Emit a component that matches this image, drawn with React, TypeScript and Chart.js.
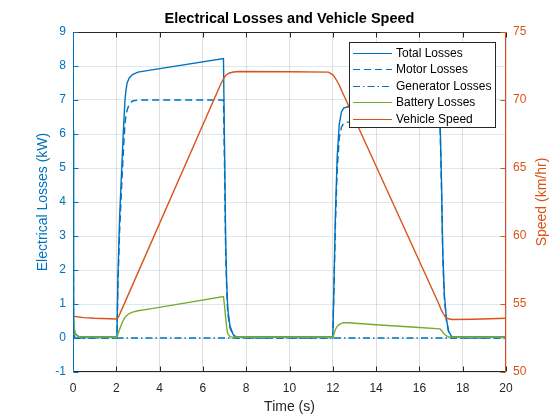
import React, { useEffect, useRef } from 'react';
import { Chart, registerables } from 'chart.js';
Chart.register(...registerables);

// time base shared by the loss traces (s)
const lossTime = [
  0, 0.03, 0.1, 0.3, 2.03, 2.07, 2.15, 2.25, 2.32, 2.4, 2.45, 2.5, 2.6, 2.75, 3.0, 3.5, 6.95,
  7.0, 7.05, 7.1, 7.15, 7.25, 7.4, 7.55, 12.0, 12.05, 12.12, 12.2, 12.3, 12.4, 12.5, 12.7,
  14.0, 16.0, 16.95, 17.02, 17.08, 17.15, 17.25, 17.35, 17.5, 20,
];
const totalLosses = [
  6.1, 0.4, 0.12, 0.03, 0.03, 1.7, 3.5, 5.0, 6.0, 7.0, 7.3, 7.5, 7.65, 7.75, 7.82, 7.87, 8.22,
  5.6, 2.9, 1.6, 0.85, 0.35, 0.1, 0.03, 0.03, 1.5, 3.6, 5.3, 6.3, 6.65, 6.76, 6.8,
  6.72, 6.62, 6.58, 4.6, 2.5, 1.3, 0.55, 0.2, 0.03, 0.03,
];
const motorLosses = [
  5.4, 0.1, 0.02, 0, 0, 1.4, 3.1, 4.5, 5.4, 6.3, 6.55, 6.7, 6.88, 6.97, 7.0, 7.0, 7.0,
  5.0, 2.6, 1.4, 0.72, 0.3, 0.08, 0, 0, 1.4, 3.3, 4.9, 5.9, 6.2, 6.32, 6.35,
  6.35, 6.35, 6.35, 4.4, 2.4, 1.2, 0.5, 0.18, 0, 0,
];
const generatorLosses = [
  0, 0, 0, 0, 0, 0, 0, 0, 0, 0, 0, 0, 0, 0, 0, 0, 0,
  0, 0, 0, 0, 0, 0, 0, 0, 0, 0, 0, 0, 0, 0, 0,
  0, 0, 0, 0, 0, 0, 0, 0, 0, 0,
];
const batteryLosses = [
  0.65, 0.35, 0.1, 0.03, 0.02, 0.1, 0.25, 0.42, 0.52, 0.6, 0.64, 0.67, 0.72, 0.76, 0.8, 0.85, 1.22,
  0.95, 0.6, 0.3, 0.12, 0.04, 0.02, 0.02, 0.02, 0.12, 0.25, 0.34, 0.4, 0.43, 0.45, 0.45,
  0.39, 0.31, 0.27, 0.22, 0.17, 0.12, 0.06, 0.03, 0.02, 0.02,
];

const speedTime = [
  0, 0.5, 1, 2.03, 2.1, 2.2, 6.75, 6.85, 6.95, 7.05, 7.2, 7.4, 7.7, 10, 11.8, 12.0, 12.1, 12.25,
  16.9, 17.0, 17.1, 17.2, 17.3, 17.5, 18.5, 20,
];
const vehicleSpeed = [
  54.1, 54.0, 53.95, 53.9, 54.05, 54.4, 70.9, 71.25, 71.55, 71.8, 71.97, 72.06, 72.1, 72.08, 72.05,
  71.85, 71.65, 71.25, 55.0, 54.6, 54.3, 54.05, 53.93, 53.86, 53.88, 53.95,
];

const BLUE = '#0072BD';
const ORANGE = '#D95319';
const GREEN = '#77AC30';
const DARK = '#262626';
const FONT = '"Liberation Sans", Arial, Helvetica, sans-serif';

const pts = (xs: number[], ys: number[]) => xs.map((x, i) => ({ x, y: ys[i] }));

// MATLAB-ish axes box: inward ticks, coloured y axes, title and legend inside the plot
const matlabFrame = {
  id: 'matlabFrame',
  afterDatasetsDraw(chart: any) {
    const { ctx, chartArea: a, scales } = chart;
    const L = Math.round(a.left) + 0.5;
    const R = Math.round(a.right) - 0.5;
    const T = Math.round(a.top) + 0.5;
    const B = Math.round(a.bottom) - 0.5;
    const tl = 5;
    ctx.save();
    ctx.lineWidth = 1;

    ctx.strokeStyle = DARK;
    ctx.beginPath();
    scales.x.ticks.forEach((t: any) => {
      const px = Math.round(scales.x.getPixelForValue(t.value)) + 0.5;
      ctx.moveTo(px, B); ctx.lineTo(px, B - tl);
      ctx.moveTo(px, T); ctx.lineTo(px, T + tl);
    });
    ctx.moveTo(L, B); ctx.lineTo(R, B);
    ctx.moveTo(L, T); ctx.lineTo(R, T);
    ctx.stroke();

    ctx.strokeStyle = BLUE;
    ctx.beginPath();
    scales.y.ticks.forEach((t: any) => {
      const py = Math.round(scales.y.getPixelForValue(t.value)) + 0.5;
      ctx.moveTo(L, py); ctx.lineTo(L + tl, py);
    });
    ctx.moveTo(L, T); ctx.lineTo(L, B);
    ctx.stroke();

    ctx.strokeStyle = ORANGE;
    ctx.beginPath();
    scales.y1.ticks.forEach((t: any) => {
      const py = Math.round(scales.y1.getPixelForValue(t.value)) + 0.5;
      ctx.moveTo(R, py); ctx.lineTo(R - tl, py);
    });
    ctx.moveTo(R, T); ctx.lineTo(R, B);
    ctx.stroke();

    // title
    ctx.fillStyle = '#000';
    ctx.font = `bold 14.5px ${FONT}`;
    ctx.textAlign = 'center';
    ctx.textBaseline = 'middle';
    ctx.fillText('Electrical Losses and Vehicle Speed', (a.left + a.right) / 2, 18.5);

    // right axis label, reading bottom to top
    ctx.save();
    ctx.translate(542, (a.top + a.bottom) / 2);
    ctx.rotate(-Math.PI / 2);
    ctx.fillStyle = ORANGE;
    ctx.font = `14px ${FONT}`;
    ctx.fillText('Speed (km/hr)', 0, 0);
    ctx.restore();

    // legend
    const bx = 349.5, by = 42.5, bw = 146, bh = 85;
    ctx.fillStyle = '#fff';
    ctx.fillRect(bx, by, bw, bh);
    ctx.strokeStyle = DARK;
    ctx.setLineDash([]);
    ctx.strokeRect(bx, by, bw, bh);
    ctx.font = `12px ${FONT}`;
    ctx.textAlign = 'left';
    chart.data.datasets.forEach((ds: any, i: number) => {
      const y = Math.round(by + 10 + i * 16.5) + 0.5;
      ctx.strokeStyle = ds.borderColor;
      ctx.lineWidth = 1.2;
      ctx.setLineDash(ds.borderDash || []);
      ctx.beginPath();
      ctx.moveTo(353, y);
      ctx.lineTo(392, y);
      ctx.stroke();
      ctx.fillStyle = '#000';
      ctx.fillText(ds.label, 396, y);
    });
    ctx.restore();
  },
};

export default function App(): React.ReactElement {
  const canvasRef = useRef<HTMLCanvasElement | null>(null);
  const chartRef = useRef<Chart | null>(null);

  useEffect(() => {
    document.body.style.margin = '0';
    if (!canvasRef.current) return;
    const ctx = canvasRef.current.getContext('2d');
    if (!ctx) return;
    if (chartRef.current) chartRef.current.destroy();

    const line = { pointRadius: 0, borderWidth: 1.4, fill: false, tension: 0 };

    chartRef.current = new Chart(ctx, {
      type: 'line',
      data: {
        datasets: [
          { ...line, label: 'Total Losses', data: pts(lossTime, totalLosses), borderColor: BLUE, yAxisID: 'y', order: 5 },
          { ...line, label: 'Motor Losses', data: pts(lossTime, motorLosses), borderColor: BLUE, borderDash: [7, 4], yAxisID: 'y', order: 4 },
          { ...line, label: 'Generator Losses', data: pts(lossTime, generatorLosses), borderColor: BLUE, borderDash: [7, 3, 1.5, 3], yAxisID: 'y', order: 3 },
          { ...line, label: 'Battery Losses', data: pts(lossTime, batteryLosses), borderColor: GREEN, yAxisID: 'y', order: 2 },
          { ...line, label: 'Vehicle Speed', data: pts(speedTime, vehicleSpeed), borderColor: ORANGE, yAxisID: 'y1', order: 1 },
        ],
      },
      options: {
        responsive: false,
        animation: false,
        layout: { padding: { top: 32, left: 0, right: 0, bottom: 0 } },
        plugins: {
          legend: { display: false },
          title: { display: false },
          tooltip: { enabled: false },
        },
        scales: {
          x: {
            type: 'linear',
            min: 0,
            max: 20,
            afterFit: (s: any) => { s.height = 48; },
            ticks: { stepSize: 2, color: DARK, padding: 9, font: { family: FONT, size: 12 } },
            grid: { color: 'rgba(38,38,38,0.15)', drawTicks: false },
            border: { display: false },
            title: { display: true, text: 'Time (s)', color: DARK, padding: { top: 0, bottom: 4 }, font: { family: FONT, size: 14 } },
          },
          y: {
            type: 'linear',
            position: 'left',
            min: -1,
            max: 9,
            afterFit: (s: any) => { s.width = 73; },
            ticks: { stepSize: 1, color: BLUE, padding: 7, font: { family: FONT, size: 12 } },
            grid: { color: 'rgba(0,114,189,0.15)', drawTicks: false },
            border: { display: false },
            title: { display: true, text: 'Electrical Losses (kW)', color: BLUE, padding: { top: 34.6, bottom: 0 }, font: { family: FONT, size: 14 } },
          },
          y1: {
            type: 'linear',
            position: 'right',
            min: 50,
            max: 75,
            afterFit: (s: any) => { s.width = 54; },
            ticks: { stepSize: 5, color: ORANGE, padding: 7, font: { family: FONT, size: 12 } },
            grid: { drawOnChartArea: false, drawTicks: false },
            border: { display: false },
          },
        },
      },
      plugins: [matlabFrame],
    });

    return () => {
      if (chartRef.current) {
        chartRef.current.destroy();
        chartRef.current = null;
      }
    };
  }, []);

  return (
    <div style={{ width: 560, height: 420, background: '#fff' }}>
      <canvas ref={canvasRef} width={560} height={420} />
    </div>
  );
}
